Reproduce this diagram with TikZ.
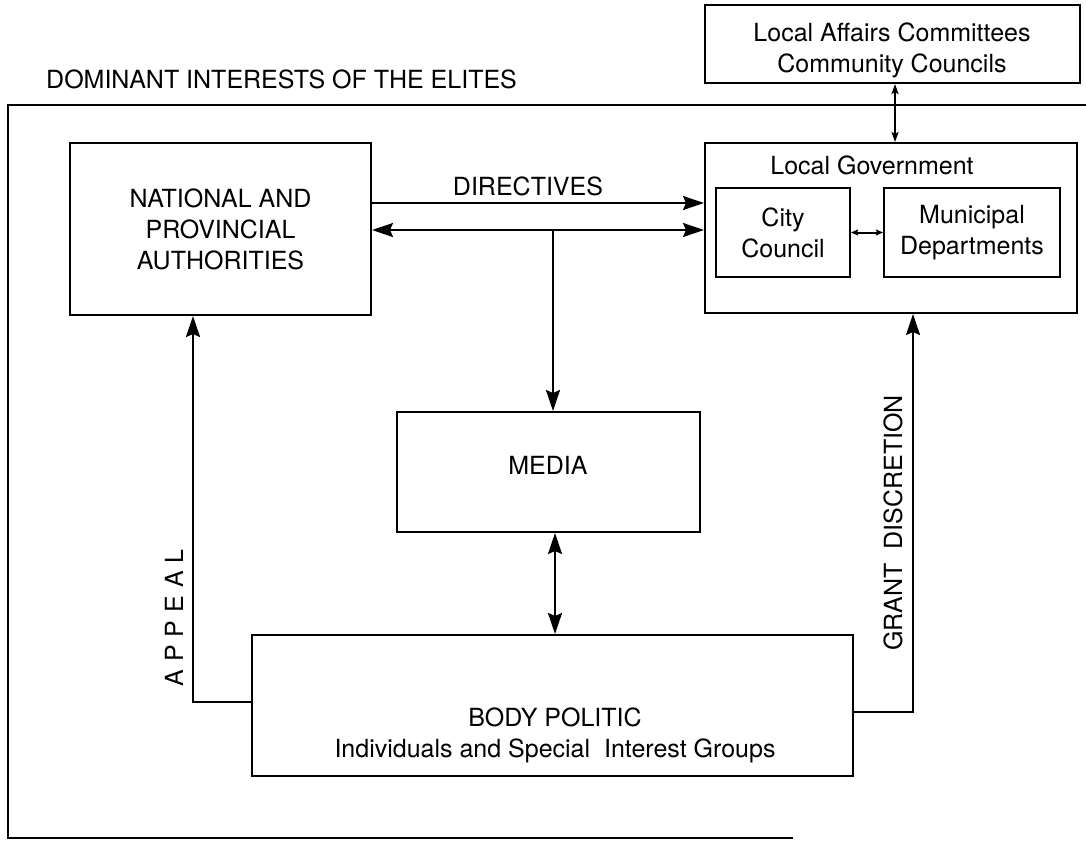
\documentclass[tikz,border=0pt]{standalone}
\usepackage{fontspec}
\setmainfont{TeX Gyre Heros}
\usetikzlibrary{arrows.meta}
\begin{document}
\begin{tikzpicture}[x=1pt,y=-1pt,
  line/.style={line width=2pt},
  box/.style={draw, line width=2pt, inner sep=0pt, align=center,
    font=\fontsize{25}{31}\selectfont},
  txt/.style={inner sep=0pt, align=center, font=\fontsize{25}{31}\selectfont},
  conn/.style={line width=2pt},
  arr/.style={-{Stealth[length=21pt,width=14pt,inset=3pt]}},
  arrb/.style={{Stealth[length=21pt,width=14pt,inset=3pt]}-{Stealth[length=21pt,width=14pt,inset=3pt]}},
  arrs/.style={{Stealth[length=10pt,width=7pt,inset=2pt]}-{Stealth[length=10pt,width=7pt,inset=2pt]}},
  arrt/.style={{Stealth[length=7pt,width=6pt,inset=1pt]}-{Stealth[length=7pt,width=6pt,inset=1pt]}}]
\useasboundingbox (0,0) rectangle (1086,846);

% outer frame of the elites' interests, open on the right
\draw[line] (1086,105) -- (8,105) -- (8,838) -- (793,838);
\node[txt, anchor=base west] (title) at (46,88) {DOMINANT INTERESTS OF THE ELITES};

% boxes
\node[box, minimum width=375pt, minimum height=78pt, fill=white] (lac) at (892,44) {};
\node[txt] (lact) at (892,50) {Local Affairs Committees\\Community Councils};

\node[box, minimum width=301pt, minimum height=172pt] (npa) at (220.5,229)
  {NATIONAL AND\\PROVINCIAL\\AUTHORITIES};

\node[box, minimum width=372pt, minimum height=170pt] (lg) at (891,228) {};
\node[txt] (lgt) at (872,165) {Local Government};
\node[box, minimum width=134pt, minimum height=89pt] (cc) at (783,232.5) {City\\Council};
\node[box, minimum width=176pt, minimum height=89pt] (md) at (972,232.5) {Municipal\\Departments};

\node[box, minimum width=303pt, minimum height=120pt] (media) at (548.5,472) {};
\node[txt] (mediat) at (548,465) {MEDIA};

\node[box, minimum width=601pt, minimum height=141pt] (body) at (552.5,705.5) {};
\node[txt] (bodyt) at (555,735) {BODY POLITIC\\Individuals and Special\ \ Interest Groups};

% connectors
\coordinate (lacx) at (895,0);
\draw[conn, arrs] (lac.south -| lacx) -- (lg.north -| lacx);
\draw[conn, arrt] (cc.east) -- (md.west);

\coordinate (dirY) at (0,203);
\draw[conn, arr] (npa.east |- dirY) -- (lg.west |- dirY);
\node[txt, anchor=base] (dirlab) at (528,195) {DIRECTIVES};

\coordinate (retY) at (0,230);
\draw[conn, arrb] (npa.east |- retY) -- (lg.west |- retY);

\coordinate (br) at (553,230);
\draw[conn, arr] (br) -- (br |- media.north);

\coordinate (mbx) at (555,0);
\draw[conn, arrb] (media.south -| mbx) -- (body.north -| mbx);

\coordinate (apx) at (193,702);
\draw[conn, arr] (body.west |- apx) -| (npa.south -| apx);
\node[txt, rotate=90] (aplab) at (174,618) {A\hspace{8pt}P\hspace{8pt}P\hspace{8pt}E\hspace{8pt}A\hspace{8pt}L};

\coordinate (grx) at (913,712);
\draw[conn, arr] (body.east |- grx) -| (lg.south -| grx);
\node[txt, rotate=90] (grlab) at (893,523) {GRANT\hspace{14pt}DISCRETION};
\end{tikzpicture}
\end{document}
